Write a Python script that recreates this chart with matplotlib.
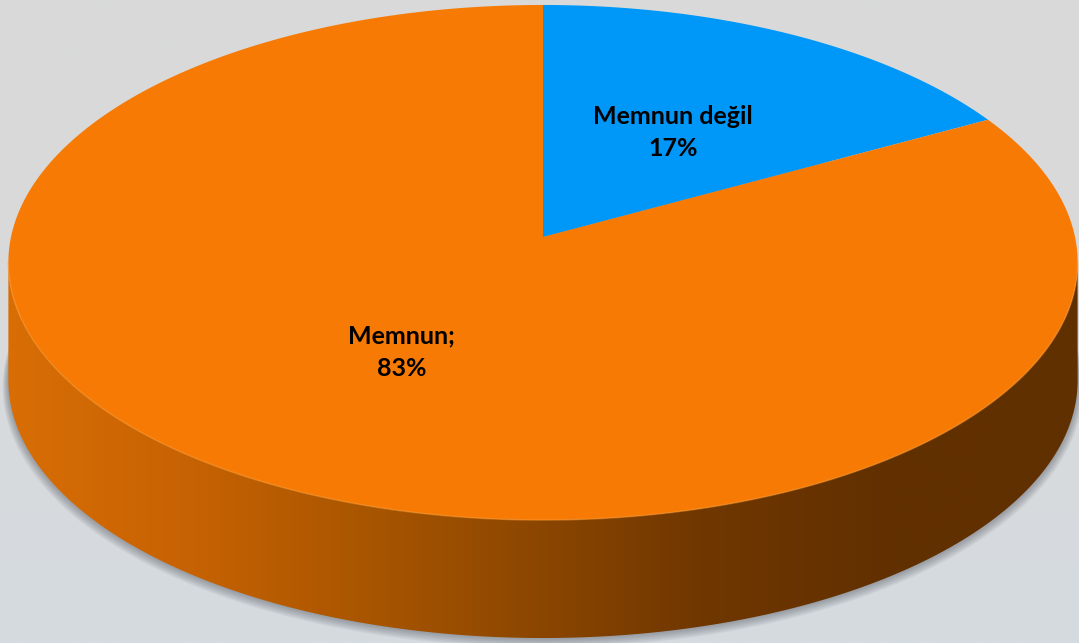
import numpy as np
import matplotlib
matplotlib.use("Agg")
import matplotlib.pyplot as plt
from matplotlib.colors import LinearSegmentedColormap
from matplotlib.patches import Polygon

# ---- data ------------------------------------------------------------------
labels = ["Memnun değil", "Memnun;"]
values = [17, 83]
colors = ["#0098F8", "#F77A05"]

# ---- geometry of the tilted disc (pixel space) ------------------------------
W, H = 1079, 643
CX, CY = 543, 237        # projected centre of the disc
SX, SY = 532, 255        # horizontal / vertical scale
K = 0.099                # perspective strength
DEPTH = 118              # thickness of the disc
START = 90.0             # first wedge starts at 12 o'clock, goes clockwise


def project(theta_deg, r=1.0, dy=0.0, grow=0.0):
    t = np.radians(theta_deg)
    x, y = r * np.cos(t), r * np.sin(t)
    den = 1 + K * y
    return CX + (SX + grow) * x / den, CY - (SY + grow * 0.5) * y / den + dy


fig = plt.figure(figsize=(W / 100, H / 100), dpi=100)
ax = fig.add_axes([0, 0, 1, 1])
ax.set_xlim(0, W)
ax.set_ylim(H, 0)
ax.axis("off")

# background: light grey, a touch bluer at the bottom
bg = LinearSegmentedColormap.from_list("bg", ["#d9d9d9", "#d9dadb", "#d5dbe0"])
ax.imshow(np.linspace(0, 1, 256)[:, None], cmap=bg, extent=[0, W, H, 0],
          aspect="auto", zorder=0)

# soft shadow below the disc
full = np.linspace(0, 360, 400)
for g in range(7, 0, -1):
    sx, sy = project(full, dy=DEPTH + g * 0.9, grow=g * 0.8)
    ax.fill(sx, sy, color="#4a5058", alpha=0.07, lw=0, zorder=1)

# side wall (front half of the disc), horizontal shading
k_ang = np.degrees(np.arcsin(K))
front = np.linspace(180 + k_ang, 360 - k_ang, 300)
tx, ty = project(front)
bx, by = project(front, dy=DEPTH)
side_pts = np.column_stack([np.r_[tx, bx[::-1]], np.r_[ty, by[::-1]]])
side = Polygon(side_pts, closed=True, facecolor="none", lw=0, zorder=2)
ax.add_patch(side)
side_cmap = LinearSegmentedColormap.from_list(
    "side",
    [(0.0, "#d96e05"), (0.18, "#c66203"), (0.37, "#a35300"),
     (0.65, "#703700"), (0.82, "#623000"), (1.0, "#603000")])
grad = ax.imshow(np.linspace(0, 1, 512)[None, :], cmap=side_cmap,
                 extent=[0, W, H, 0], aspect="auto", zorder=2)
grad.set_clip_path(side)

# top face wedges
total = float(sum(values))
angle = START
label_pos = []
for val, col in zip(values, colors):
    span = 360.0 * val / total
    arc = np.linspace(angle, angle - span, max(int(span * 2), 10))
    ax_, ay_ = project(arc)
    ax.fill(np.r_[CX, ax_], np.r_[CY, ay_], color=col, lw=0, zorder=3)
    label_pos.append(project(angle - span / 2, r=0.5))
    angle -= span

# faint highlight along the front rim of the top face
ax.plot(tx, ty, color="#ff9a2a", lw=1.2, alpha=0.45, zorder=4,
        solid_capstyle="round")

# data labels
for lab, val, (lx, ly) in zip(labels, values, label_pos):
    ax.text(lx, ly + 1, f"{lab}\n{val / total:.0%}", ha="center", va="center",
            multialignment="center", fontsize=18, fontweight="bold",
            family=["Lato", "DejaVu Sans"], color="black", linespacing=1.5,
            zorder=5)

fig.savefig("out.png", dpi=100)
